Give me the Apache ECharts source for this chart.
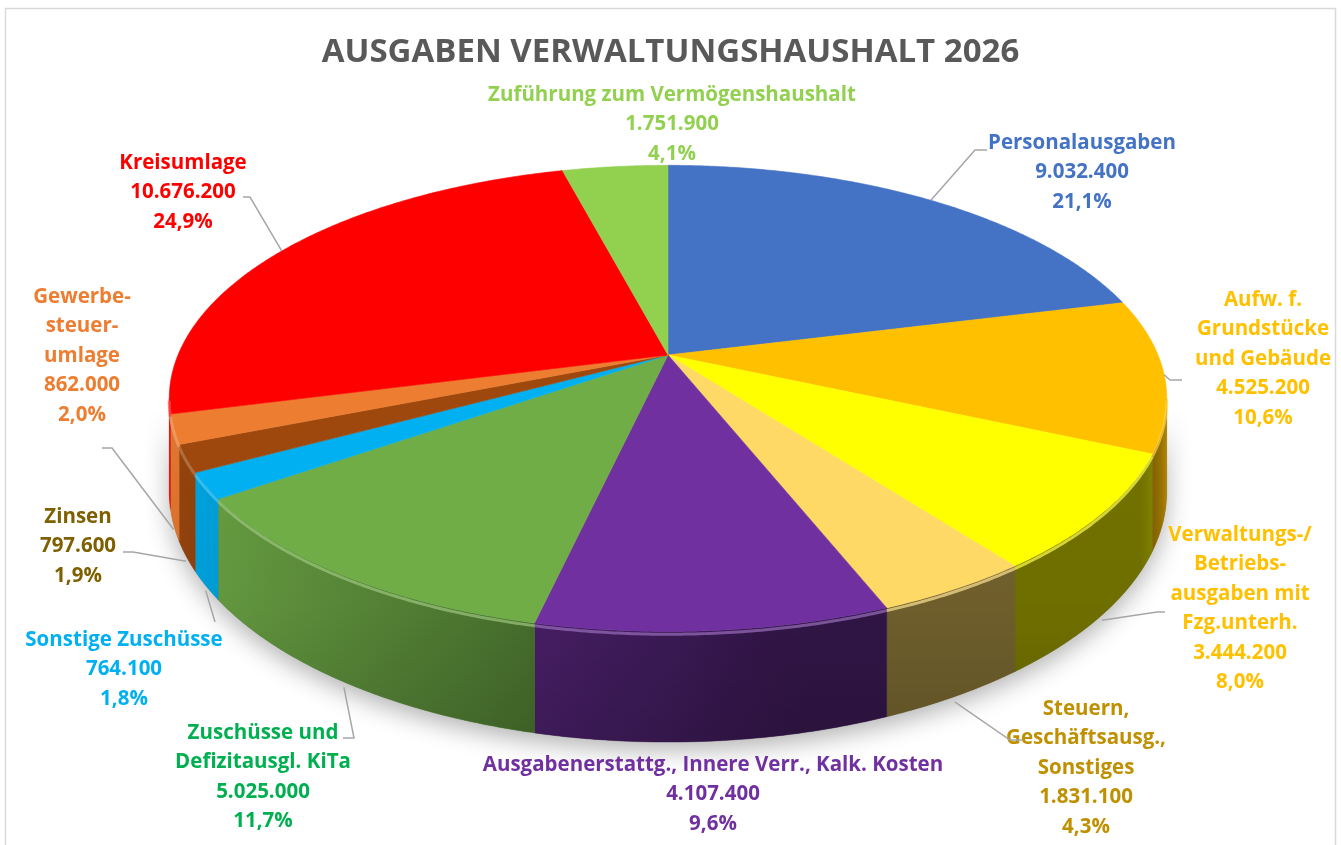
<!DOCTYPE html>
<html>
<head>
<meta charset="utf-8">
<title>Ausgaben Verwaltungshaushalt 2026</title>
<script src="https://cdn.jsdelivr.net/npm/echarts@6/dist/echarts.min.js"></script>
<style>
  html, body { margin: 0; padding: 0; background: #fff; }
  #chart { width: 1341px; height: 845px; }
</style>
</head>
<body>
<div id="chart"></div>
<script>
// slices, clockwise from 12 o'clock
var names = [
  'Personalausgaben',
  'Aufw. f.\nGrundstücke\nund Gebäude',
  'Verwaltungs-/\nBetriebs-\nausgaben mit\nFzg.unterh.',
  'Steuern,\nGeschäftsausg.,\nSonstiges',
  'Ausgabenerstattg., Innere Verr., Kalk. Kosten',
  'Zuschüsse und\nDefizitausgl. KiTa',
  'Sonstige Zuschüsse',
  'Zinsen',
  'Gewerbe-\nsteuer-\numlage',
  'Kreisumlage',
  'Zuführung zum Vermögenshaushalt'
];
var values = [9032400, 4525200, 3444200, 1831100, 4107400, 5025000, 764100, 797600, 862000, 10676200, 1751900];
var sliceColors = ['#4472C4', '#FFC000', '#FFFF00', '#FFD966', '#7030A0', '#70AD47', '#00B0F0', '#9E480E', '#ED7D31', '#FF0000', '#92D050'];
var labelColors = ['#4472C4', '#FFC000', '#FFC000', '#BF9000', '#7030A0', '#00B050', '#00B0F0', '#7F6000', '#ED7D31', '#FF0000', '#92D050'];

// label blocks: centre x / first line y, leader elbow points, how far down the wall the leader ends
var labelLayout = [
  {x: 1082, y: 143, leader: [[987, 150], [975, 150]], drop: 0},
  {x: 1263, y: 300, leader: [[1182, 380], [1170, 380]], drop: 0},
  {x: 1240, y: 535, leader: [[1165, 612], [1157, 612]], drop: 1.05},
  {x: 1086, y: 709, leader: [[1022, 740], [1010, 740]], drop: 1.05},
  {x: 713, y: 765, leader: null, drop: 0},
  {x: 263, y: 733, leader: [[343, 738], [354, 738]], drop: 1.05},
  {x: 124, y: 640, leader: [[215, 622]], drop: 1.05},
  {x: 78, y: 517, leader: [[123, 552], [133, 552]], drop: 1.05},
  {x: 82, y: 297, leader: [[102, 448], [112, 448]], drop: 1.05},
  {x: 183, y: 163, leader: [[243, 197], [250, 197]], drop: 0},
  {x: 672, y: 95, leader: null, drop: 0}
];

var FONT = '"Open Sans", Lato, sans-serif';
var LINE_H = 29.5;

// pie geometry (perspective view of a tilted disc)
var CX = 668, CY = 355, RX = 490, RY = 225, DEPTH = 5.37, THICK = 90;
var PHI_R = Math.acos(-1 / DEPTH);
var PHI_L = 2 * Math.PI - PHI_R;

var total = values.reduce(function (a, b) { return a + b; }, 0);
var starts = [];
var acc = 0;
values.forEach(function (v) {
  starts.push(acc / total * 2 * Math.PI);
  acc += v;
});

function project(phi, r, drop) {
  var x = Math.sin(phi) * r;
  var z = -Math.cos(phi) * r;
  var f = DEPTH / (DEPTH - z);
  return [CX + RX * x * f, CY + RY * z * f + THICK * f * drop];
}

function fmtNum(v) {
  return String(v).replace(/\B(?=(\d{3})+(?!\d))/g, '.');
}
function fmtPct(v) {
  return (v / total * 100).toFixed(1).replace('.', ',') + '%';
}

function hexRgb(hex) {
  var n = parseInt(hex.slice(1), 16);
  return [(n >> 16) & 255, (n >> 8) & 255, n & 255];
}
function shade(hex, k) {
  var c = hexRgb(hex);
  return 'rgb(' + c.map(function (v) { return Math.round(Math.min(255, v * k)); }).join(',') + ')';
}
function tint(hex, k) {
  var c = hexRgb(hex);
  return 'rgb(' + c.map(function (v) { return Math.round(v + (255 - v) * k); }).join(',') + ')';
}

function wallLight(phi) {
  var nx = Math.sin(phi), nz = -Math.cos(phi);
  var d = (-nx + nz * 0.2) / Math.sqrt(1.04);
  var rim = Math.max(0, 1 - (phi - PHI_R) / 0.3) * 0.3;
  return 0.45 + 0.5 * Math.max(0, d) + rim;
}

function arcPoints(a0, a1, r, drop) {
  var pts = [];
  var n = Math.max(2, Math.ceil((a1 - a0) / 0.008));
  for (var k = 0; k <= n; k++) {
    pts.push(project(a0 + (a1 - a0) * k / n, r, drop));
  }
  return pts;
}

function renderTop(params) {
  var i = params.dataIndex;
  var a0 = starts[i], a1 = a0 + values[i] / total * 2 * Math.PI;
  var pts = [[CX, CY]].concat(arcPoints(a0, a1, 1, 0));
  var children = [{
    type: 'polygon',
    shape: {points: pts},
    style: {fill: sliceColors[i], stroke: sliceColors[i], lineWidth: 0.6}
  }];
  var lo = Math.max(a0, PHI_R), hi = Math.min(a1, PHI_L);
  if (hi > lo) {
    children.push({
      type: 'polyline',
      shape: {points: arcPoints(lo, hi, 1, 0.025)},
      style: {stroke: tint(sliceColors[i], 0.3), lineWidth: 3, fill: null, opacity: 0.7}
    });
  }
  return {type: 'group', children: children};
}

function renderWall(params) {
  var i = params.dataIndex;
  var children = [];
  var outline = arcPoints(PHI_R, PHI_L, 1, 0).concat(arcPoints(PHI_R, PHI_L, 1, 1).reverse());
  if (i === 0) {
    // soft shadow under the whole pie, and a slight darkening towards the bottom edge
    children.push({
      type: 'polygon',
      z2: -10,
      shape: {points: outline},
      style: {fill: '#777', shadowBlur: 24, shadowColor: 'rgba(0,0,0,0.3)', shadowOffsetY: 8}
    });
    children.push({
      type: 'polygon',
      z2: 10,
      shape: {points: outline},
      style: {
        fill: new echarts.graphic.LinearGradient(0, 0, 0, 1, [
          {offset: 0, color: 'rgba(0,0,0,0)'},
          {offset: 0.6, color: 'rgba(0,0,0,0.04)'},
          {offset: 1, color: 'rgba(0,0,0,0.16)'}
        ])
      }
    });
  }
  var a0 = starts[i], a1 = a0 + values[i] / total * 2 * Math.PI;
  var lo = Math.max(a0, PHI_R), hi = Math.min(a1, PHI_L);
  if (hi > lo) {
    var top = arcPoints(lo, hi, 1, 0);
    var bottom = arcPoints(lo, hi, 1, 1).reverse();
    var xa = project(lo, 1, 0)[0], xb = project(hi, 1, 0)[0];
    var stops = [];
    var n = 12;
    for (var k = 0; k <= n; k++) {
      var p = lo + (hi - lo) * k / n;
      var off = Math.abs(xb - xa) < 0.5 ? k / n : (project(p, 1, 0)[0] - xa) / (xb - xa);
      stops.push({offset: Math.min(1, Math.max(0, off)), color: shade(sliceColors[i], wallLight(p))});
    }
    children.push({
      type: 'polygon',
      shape: {points: top.concat(bottom)},
      style: {
        fill: new echarts.graphic.LinearGradient(xa, 0, xb, 0, stops, true),
        stroke: shade(sliceColors[i], wallLight((lo + hi) / 2)),
        lineWidth: 0.4
      }
    });
  }
  return {type: 'group', children: children};
}

function renderLabel(params) {
  var i = params.dataIndex;
  var lay = labelLayout[i];
  var a0 = starts[i], mid = a0 + values[i] / total * Math.PI;
  var children = [{
    type: 'text',
    x: lay.x,
    y: lay.y - LINE_H / 2,
    style: {
      text: names[i] + '\n' + fmtNum(values[i]) + '\n' + fmtPct(values[i]),
      fill: labelColors[i],
      fontFamily: FONT,
      fontWeight: 'bold',
      fontSize: 20.5,
      lineHeight: LINE_H,
      align: 'center',
      verticalAlign: 'top'
    }
  }];
  if (lay.leader) {
    children.push({
      type: 'polyline',
      shape: {points: lay.leader.concat([project(mid, 1, lay.drop)])},
      style: {stroke: '#a6a6a6', lineWidth: 1.5, fill: null}
    });
  }
  return {type: 'group', children: children};
}

var chart = echarts.init(document.getElementById('chart'));
chart.setOption({
  animation: false,
  title: {
    text: 'AUSGABEN VERWALTUNGSHAUSHALT 2026',
    left: 'center',
    top: 31,
    textStyle: {fontFamily: FONT, fontSize: 33, fontWeight: 'bold', color: '#595959'}
  },
  graphic: [{
    type: 'rect',
    shape: {x: 5.5, y: 8.5, width: 1330, height: 900},
    style: {fill: null, stroke: '#d9d9d9', lineWidth: 1.5},
    silent: true
  }],
  series: [
    {type: 'custom', name: 'walls', coordinateSystem: 'none', z: 1, renderItem: renderWall, data: values, silent: true},
    {type: 'custom', name: 'tops', coordinateSystem: 'none', z: 2, renderItem: renderTop, data: values},
    {type: 'custom', name: 'labels', coordinateSystem: 'none', z: 3, renderItem: renderLabel, data: values, silent: true}
  ]
});
</script>
</body>
</html>
